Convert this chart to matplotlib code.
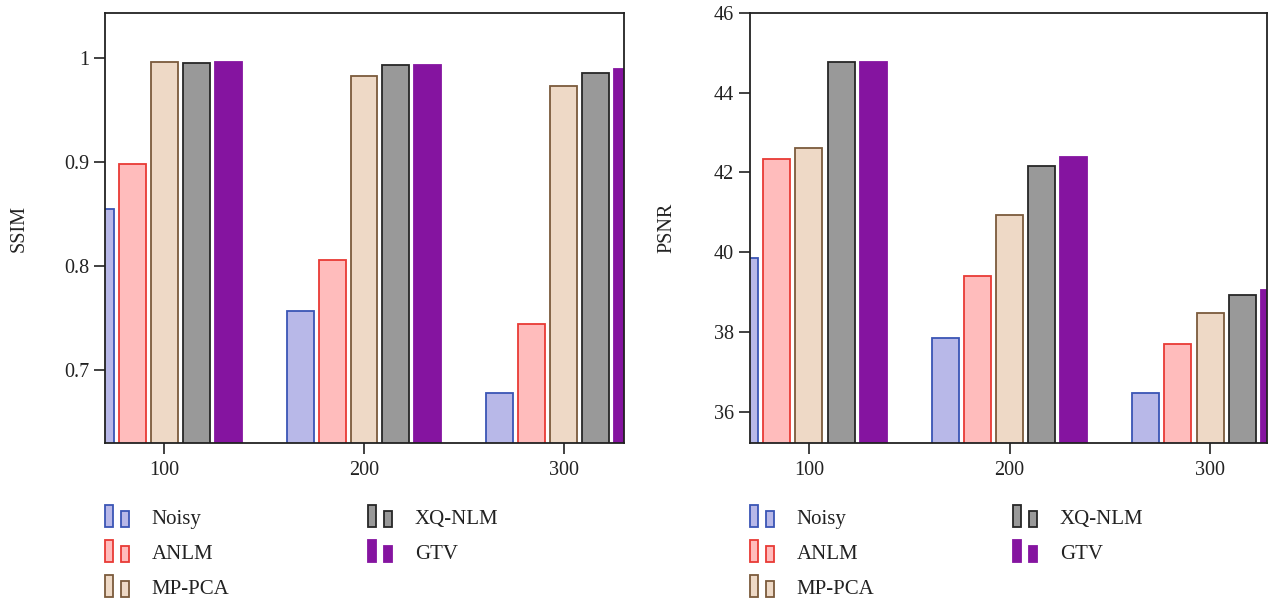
import matplotlib
matplotlib.use("Agg")
import matplotlib.pyplot as plt
import numpy as np
from matplotlib.patches import Rectangle
from matplotlib.legend_handler import HandlerBase

plt.rcParams['font.family'] = ['Liberation Serif', 'DejaVu Serif']

categories = [100, 200, 300]
methods = ['Noisy', 'ANLM', 'MP-PCA', 'XQ-NLM', 'GTV']
ssim = {
    'Noisy':  [0.8545, 0.7565, 0.6776],
    'ANLM':   [0.8974, 0.8058, 0.7439],
    'MP-PCA': [0.9956, 0.9827, 0.9731],
    'XQ-NLM': [0.9946, 0.9933, 0.9856],
    'GTV':    [0.9962, 0.9930, 0.9889],
}
psnr = {
    'Noisy':  [39.85, 37.84, 36.46],
    'ANLM':   [42.34, 39.40, 37.71],
    'MP-PCA': [42.60, 40.93, 38.48],
    'XQ-NLM': [44.77, 42.17, 38.93],
    'GTV':    [44.77, 42.38, 39.06],
}
ssim_ticks = [0.7, 0.8, 0.9, 1.0]
ssim_ticklabels = ['0.7', '0.8', '0.9', '1']
psnr_ticks = [36, 38, 40, 42, 44, 46]

fills = {'Noisy': '#b8b8e8', 'ANLM': '#ffbcbc', 'MP-PCA': '#eed9c6',
         'XQ-NLM': '#999999', 'GTV': '#8514a0'}
edges = {'Noisy': '#3a55b5', 'ANLM': '#e83a35', 'MP-PCA': '#7b5a3c',
         'XQ-NLM': '#262626', 'GTV': '#8514a0'}


class TwoBarHandler(HandlerBase):
    def create_artists(self, legend, orig_handle, xdescent, ydescent,
                       width, height, fontsize, trans):
        fc = orig_handle.get_facecolor()
        ec = orig_handle.get_edgecolor()
        w = width * 0.33
        y0 = -ydescent - 0.15 * height
        r1 = Rectangle((-xdescent, y0), w, height * 1.4,
                       facecolor=fc, edgecolor=ec, lw=1.3, transform=trans)
        r2 = Rectangle((-xdescent + width * 0.64, y0), w,
                       height * 1.02, facecolor=fc, edgecolor=ec, lw=1.3,
                       transform=trans)
        return [r1, r2]


fig = plt.figure(figsize=(12.7, 6.01), dpi=100)
W, H = 1270, 601
ax1 = fig.add_axes([105 / W, 1 - 443.3 / H, (624 - 105) / W, (443.3 - 12.7) / H])
ax2 = fig.add_axes([750 / W, 1 - 443.3 / H, (1267 - 750) / W, (443.3 - 12.7) / H])

x = np.array(categories, dtype=float)
step = 16.0
bw = 13.5
offsets = {m: (i - 2) * step for i, m in enumerate(methods)}


def draw(ax, data, ylim, ticks, ticklabels, ylabel, xlim):
    handles = []
    for m in methods:
        b = ax.bar(x + offsets[m], data[m], width=bw, bottom=0,
                   color=fills[m], edgecolor=edges[m], linewidth=1.3,
                   label=m, zorder=2)
        handles.append(b.patches[0])
    ax.set_ylim(*ylim)
    ax.set_xlim(*xlim)
    ax.set_yticks(ticks)
    ax.set_yticklabels(ticklabels)
    ax.set_xticks(categories)
    ax.set_xticklabels([str(c) for c in categories])
    ax.tick_params(axis='both', labelsize=14.5, length=8, width=1.3,
                   color='#333333', labelcolor='#222222', direction='out')
    ax.tick_params(axis='x', pad=4.5)
    for s in ax.spines.values():
        s.set_linewidth(1.3)
        s.set_color('#222222')
        s.set_zorder(3)
    ax.set_ylabel(ylabel, fontsize=14.5, color='#222222')
    leg = ax.legend(handles, methods, ncol=2, loc='upper left',
                    bbox_to_anchor=(0.0, -0.153), frameon=False,
                    fontsize=15, handler_map={type(handles[0]): TwoBarHandler()},
                    handlelength=1.2, handleheight=0.75, handletextpad=1.05,
                    columnspacing=6.65, labelspacing=0.72, borderpad=0,
                    borderaxespad=0)
    for t in leg.get_texts():
        t.set_color('#222222')
    return ax


draw(ax1, ssim, (0.6296, 1.0432), ssim_ticks, ssim_ticklabels, 'SSIM', (70.3, 330.2))
ax1.yaxis.set_label_coords(-0.148, 0.5)
draw(ax2, psnr, (35.21, 46.0), psnr_ticks, [str(t) for t in psnr_ticks], 'PSNR', (70.6, 328.4))
ax2.yaxis.set_label_coords(-0.143, 0.5)

fig.savefig('out.png', dpi=100)
